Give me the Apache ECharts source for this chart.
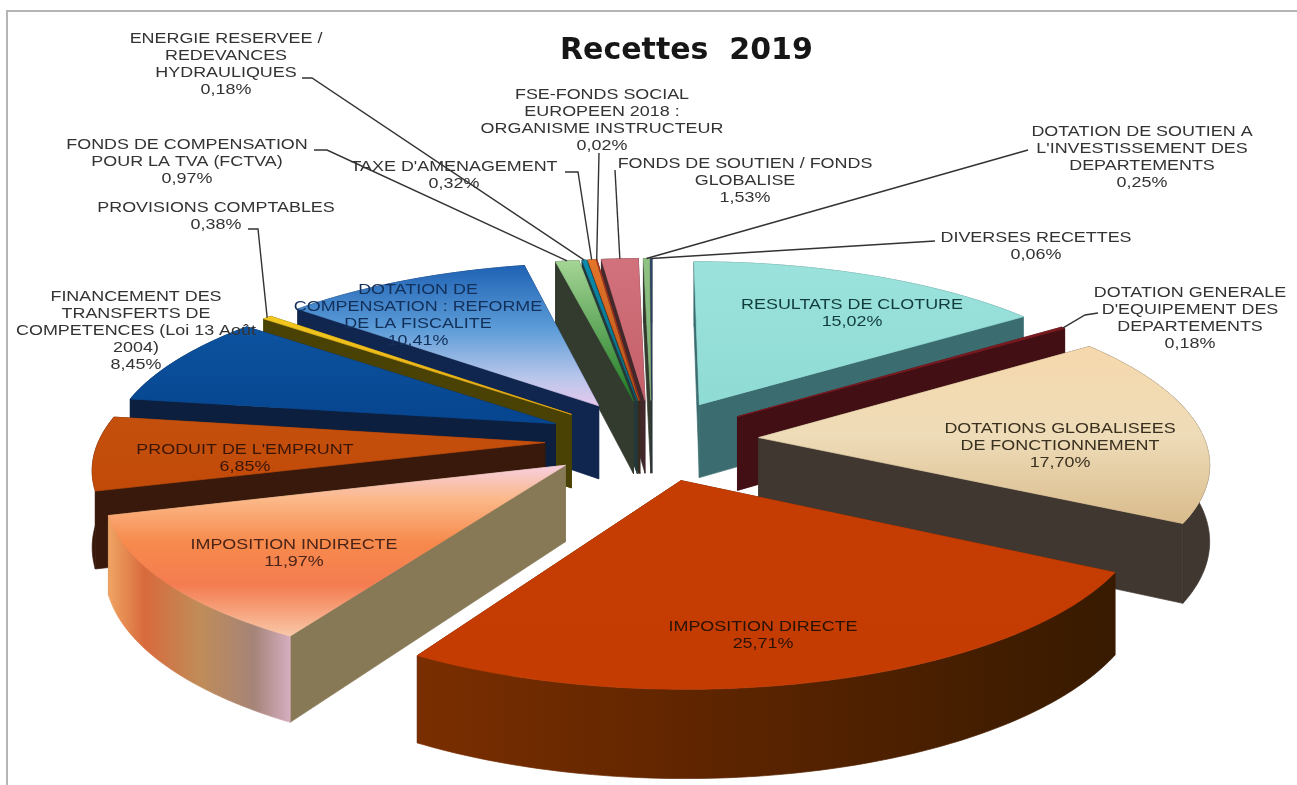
<!DOCTYPE html>
<html><head><meta charset="utf-8">
<style>html,body{margin:0;padding:0;background:#fff}#c{width:1297px;height:785px;filter:blur(.45px)}</style>
<script src="https://cdn.jsdelivr.net/npm/echarts@6/dist/echarts.min.js"></script>
</head><body><div id="c"></div>
<script>
// ---- data, clockwise from 12 o'clock ----
const categories = [
  "RESULTATS DE CLOTURE",
  "DOTATION GENERALE\nD'EQUIPEMENT DES\nDEPARTEMENTS",
  "DOTATIONS GLOBALISEES\nDE FONCTIONNEMENT",
  "IMPOSITION DIRECTE",
  "IMPOSITION INDIRECTE",
  "PRODUIT DE L'EMPRUNT",
  "FINANCEMENT DES\nTRANSFERTS DE\nCOMPETENCES (Loi 13 Août\n2004)",
  "PROVISIONS COMPTABLES",
  "DOTATION DE\nCOMPENSATION : REFORME\nDE LA FISCALITE",
  "FONDS DE COMPENSATION\nPOUR LA TVA (FCTVA)",
  "ENERGIE RESERVEE /\nREDEVANCES\nHYDRAULIQUES",
  "TAXE D'AMENAGEMENT",
  "FSE-FONDS SOCIAL\nEUROPEEN 2018 :\nORGANISME INSTRUCTEUR",
  "FONDS DE SOUTIEN / FONDS\nGLOBALISE",
  "DOTATION DE SOUTIEN A\nL'INVESTISSEMENT DES\nDEPARTEMENTS",
  "DIVERSES RECETTES"
];
const values = [15.02,0.18,17.70,25.71,11.97,6.85,8.45,0.38,10.41,0.97,0.18,0.32,0.02,1.53,0.25,0.06];

// ---- styling and layout ----
const topStops = [
  [[0,'#9be2dc'],[1,'#8fdcd4']],
  [[0,'#7a1a20'],[1,'#7a1a20']],
  [[0,'#f6d8ac'],[.5,'#eedcb8'],[1,'#d9bb8c']],
  [[0,'#c63d03'],[1,'#c43c02']],
  [[0,'#f6cfe0'],[.2,'#fbb888'],[.45,'#f78a4c'],[.7,'#f47c50'],[1,'#f9c8a8']],
  [[0,'#c4500e'],[1,'#c24a08']],
  [[0,'#0d539f'],[1,'#06458f']],
  [[0,'#f2c81e'],[1,'#e8a818']],
  [[0,'#1f62b4'],[.45,'#5c9cd8'],[.8,'#b9c6ea'],[1,'#e6c9ee']],
  [[0,'#a5d596'],[1,'#1d7a22']],
  [[0,'#0b8cae'],[1,'#076a80']],
  [[0,'#e4752a'],[1,'#b85018']],
  [[0,'#c03020'],[1,'#a02818']],
  [[0,'#d2727c'],[1,'#c4606a']],
  [[0,'#90c284'],[1,'#80b074']],
  [[0,'#304a70'],[1,'#203050']]
];
const wallColors = ['#3b6d70','#420f14','#403730','#4a2000','#877856','#38190c','#0c1f3e','#4a4204','#10264f','#333b2e','#23383a','#3a2a1e','#3a2a1e','#42282a','#333b2e','#222c3a'];
const rimStops = {
  3:[[0,'#7a2e00'],[.45,'#5c2400'],[1,'#371a00']],
  4:[[0,'#f0a564'],[.2,'#d86a3c'],[.5,'#c08c58'],[.8,'#a58478'],[1,'#d6aec0']]
};
const labelBox = [ // centre of each label block
  [852,313],[1190,318],[1060,446],[763,635],[294,553],[245,458],[136,331],[216,216],
  [418,315],[187,162],[226,64],[454,175],[602,120],[745,181],[1142,157],[1036,246]
];
const leaderVia = {
  1:[[1098,313],[1085,315]], 7:[[248,229],[258,229]], 9:[[314,150],[327,150]], 10:[[302,78],[312,78]],
  11:[[565,172],[578,172]], 12:[[599,153]], 13:[[615,170]], 14:[[1028,150]], 15:[[935,241]]
};
const onSlice = {0:'#123c3c',2:'#3a3020',3:'#2a1204',4:'#4a2418',5:'#3a1608',8:'#12305a'};
const CX=652, CY=440, A=446, B=170, K=.13, DEPTH=75, EXPLODE=.24, FONT='"Liberation Sans"', STRETCH=1.235;

const rad=d=>d*Math.PI/180;
const pct=v=>v.toFixed(2).replace('.',',')+'%';
function project(u,v,h){const s=1/(1+K*v);return [CX+A*u*s, CY-B*v*s+h*DEPTH*s];}

let acc=0;
const slices=values.map((val,i)=>{const a0=acc*3.6;acc+=val;const a1=acc*3.6;return {i,a0,a1,mid:(a0+a1)/2};});
const drawOrder=slices.slice().sort((p,q)=>Math.cos(rad(q.mid))-Math.cos(rad(p.mid))).map(s=>s.i);

function grad(stops,horizontal){
  return new echarts.graphic.LinearGradient(0,0,horizontal?1:0,horizontal?0:1,stops.map(s=>({offset:s[0],color:s[1]})));
}
function renderSlice(params,api){
  const i=api.value(0), s=slices[i], rank=params.dataIndex*10+1;
  const eu=EXPLODE*Math.sin(rad(s.mid)), ev=EXPLODE*Math.cos(rad(s.mid));
  const pt=(deg,h)=>project(eu+Math.sin(rad(deg)),ev+Math.cos(rad(deg)),h);
  const apex=h=>project(eu,ev,h);
  const n=Math.max(2,Math.ceil((s.a1-s.a0)));
  const arc=[],arcLow=[];
  for(let k=0;k<=n;k++){const d=s.a0+(s.a1-s.a0)*k/n;arc.push(pt(d,0));arcLow.push(pt(d,1));}
  const wall=wallColors[i];
  const poly=(points,fill,z)=>({type:'polygon',z2:z,shape:{points},style:{fill,stroke:fill,lineWidth:.7},silent:true});
  const quad=d=>[apex(0),pt(d,0),pt(d,1),apex(1)];
  const frontFirst=Math.cos(rad(s.a0))<Math.cos(rad(s.a1));
  const children=[
    poly(quad(frontFirst?s.a1:s.a0), wall, rank),
    poly(quad(frontFirst?s.a0:s.a1), wall, rank+1),
    poly(arc.concat(arcLow.slice().reverse()), rimStops[i]?grad(rimStops[i],true):wall, rank+2),
    poly([apex(0)].concat(arc), grad(topStops[i],false), rank+3)
  ];
  if(leaderVia[i]){
    children.push({type:'polyline',z2:500,silent:true,
      shape:{points:leaderVia[i].concat([pt(s.mid,0)])},
      style:{fill:null,stroke:'#333333',lineWidth:1.4}});
  }
  children.push({type:'text',z2:1000,silent:true,x:labelBox[i][0],y:labelBox[i][1],scaleX:STRETCH,
    style:{text:categories[i]+'\n'+pct(values[i]),fontFamily:FONT,fontSize:14.5,lineHeight:17,
      fill:onSlice[i]||'#333333',align:'center',verticalAlign:'middle'}});
  return {type:'group',children};
}

const chart=echarts.init(document.getElementById('c'),null,{renderer:'canvas'});
chart.setOption({
  animation:false,
  backgroundColor:'#ffffff',
  title:{text:'Recettes  2019',left:560,top:36,padding:0,
    textStyle:{fontFamily:'"DejaVu Sans"',fontWeight:'bold',fontSize:30,color:'#161616'}},
  graphic:[
    {type:'polyline',silent:true,shape:{points:[[7,785],[7,11],[1297,11]]},style:{fill:null,stroke:'#b5b5b5',lineWidth:2}}
  ],
  series:[{
    type:'custom',coordinateSystem:'none',clip:false,silent:true,
    renderItem:renderSlice,
    data:drawOrder.map(i=>[i,values[i]])
  }]
});
</script></body></html>
